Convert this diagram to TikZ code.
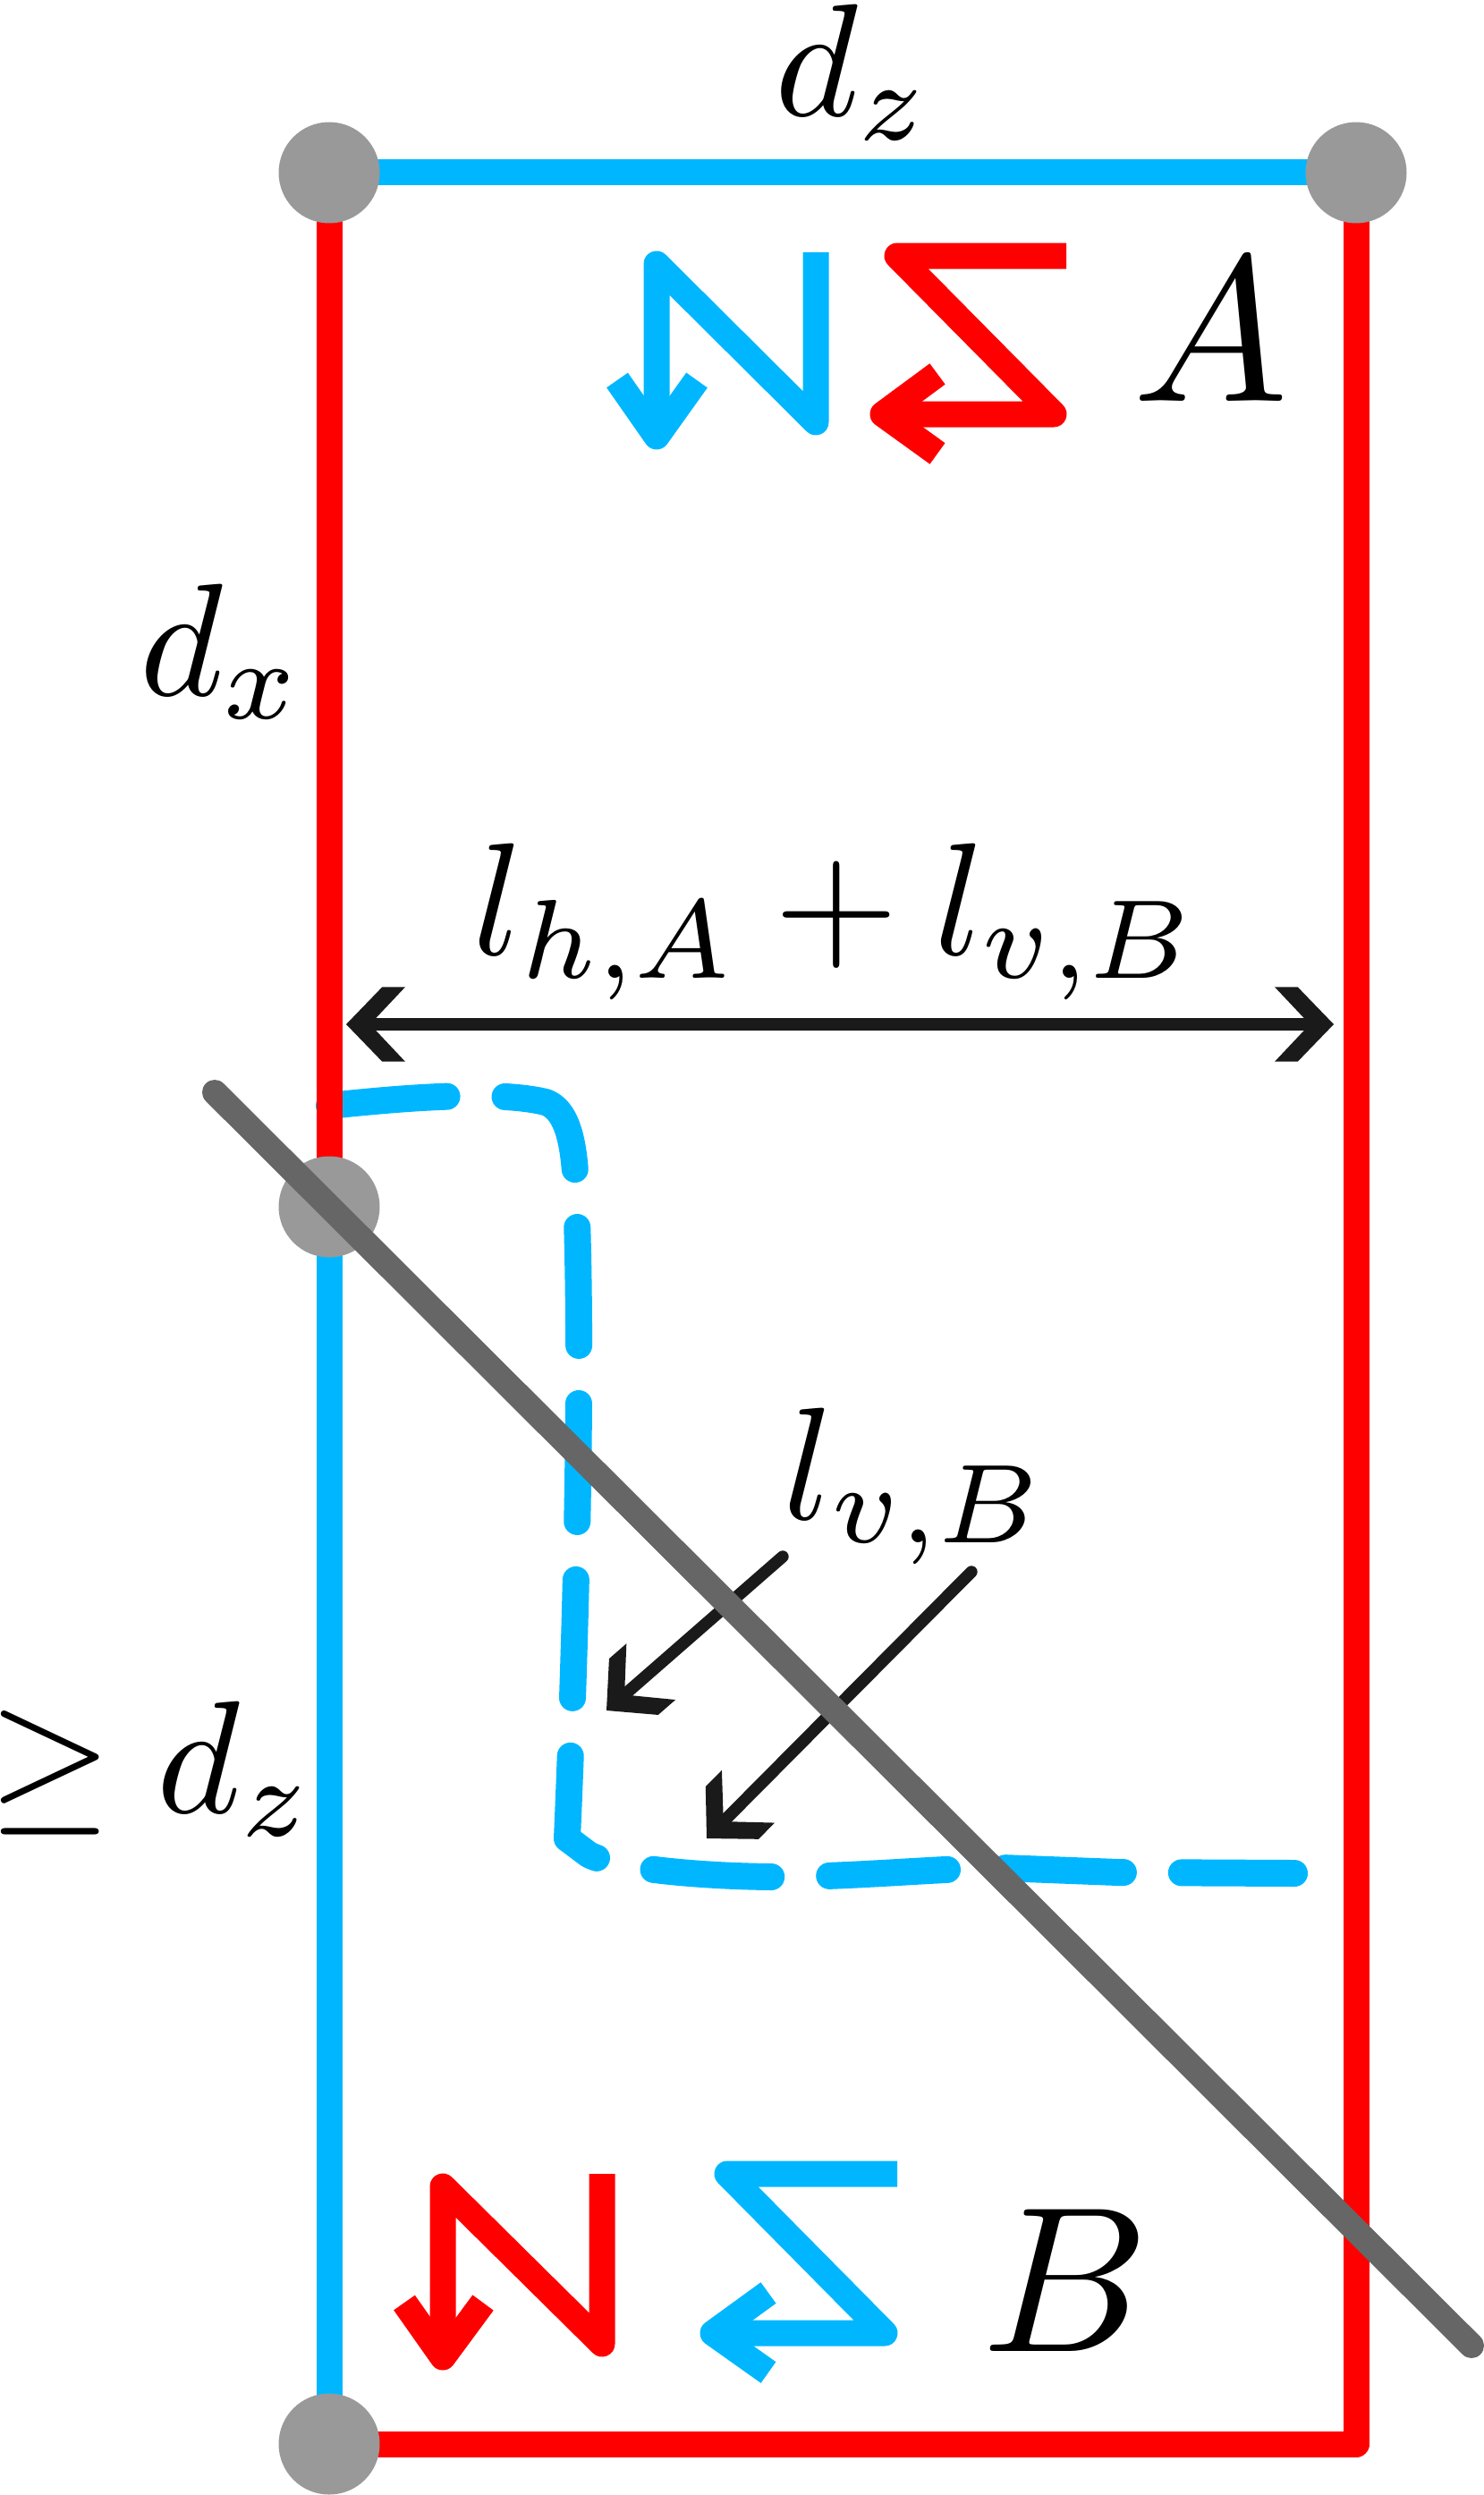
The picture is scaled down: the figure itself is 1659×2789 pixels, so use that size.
\documentclass[tikz,border=0pt]{standalone}
\definecolor{myred}{RGB}{255,0,0}
\definecolor{myblue}{RGB}{0,183,255}
\definecolor{dotgray}{RGB}{153,153,153}
\definecolor{diaggray}{RGB}{102,102,102}
\definecolor{arrowblack}{RGB}{26,26,26}
\newcommand\lblbox[1]{\scalebox{5.1}{$#1$}}
\newcommand\biglblbox[1]{\scalebox{6.6}{$#1$}}
\tikzset{
  chevron/.pic={\fill[arrowblack] (0,0) -- (-40.3,-41.7) -- (-66,-41.7) -- (-33,-6.7) -- (-33,6.7) -- (-66,41.7) -- (-40.3,41.7) -- cycle;},
  redline/.style={draw=myred, line width=2.9mm, line join=round},
  blueline/.style={draw=myblue, line width=2.9mm, line join=round},
  zig/.style={line width=2.9mm, line join=round, line cap=butt},
  dashblue/.style={draw=myblue, line width=3mm, line cap=round, line join=round, dash pattern=on 13.2mm off 6.5mm},
  diag/.style={draw=diaggray, line width=2.8mm, line cap=round},
  shaft/.style={draw=arrowblack, line width=1.34mm},
  dot/.style={circle, fill=dotgray, minimum size=11.3mm, inner sep=0pt},
  lbl/.style={inner sep=0pt, anchor=base west},
}
\begin{document}
\begin{tikzpicture}[x=0.1mm,y=-0.1mm]
\useasboundingbox (0,0) rectangle (1659,2789);
% corner points
\coordinate (tl) at (368,193);
\coordinate (tr) at (1516,193);
\coordinate (ml) at (368,1349);
\coordinate (bl) at (368,2732);
\coordinate (br) at (1516,2732);
% dashed blue path
\draw[dashblue] (368,1236) .. controls (470,1225) and (560,1220) .. (610,1232)
  .. controls (632,1240) and (640,1270) .. (643,1310)
  .. controls (652,1500) and (645,1800) .. (634,2055)
  -- (658,2073) .. controls (690,2090) and (800,2099) .. (890,2098)
  .. controls (980,2096) and (1060,2088) .. (1120,2088)
  -- (1250,2093) -- (1447,2094);
% frame lines
\draw[blueline] (tl) -- (tr);
\draw[redline] (tl) -- (ml);
\draw[blueline] (ml) -- (bl);
\draw[redline] (tr) -- (br) -- (bl);
% zigzags top
\draw[zig, myblue] (912,282) -- (912,472) -- (734,295) -- (734,488);
\draw[zig, myblue] (690,425) -- (734,488) -- (779,425);
\draw[zig, myred] (1192,286) -- (1003,286) -- (1178,463) -- (987,463);
\draw[zig, myred] (1048,418) -- (987,463) -- (1048,507);
% zigzags bottom
\draw[zig, myred] (673,2430) -- (673,2620) -- (495,2444) -- (495,2635);
\draw[zig, myred] (452,2574) -- (495,2635) -- (540,2574);
\draw[zig, myblue] (1003,2430) -- (813,2430) -- (989,2608) -- (797,2608);
\draw[zig, myblue] (859,2563) -- (797,2608) -- (859,2652);
% double arrow
\coordinate (hl) at (387,1145);
\coordinate (hr) at (1491,1145);
\draw[shaft, shorten <=3.3mm, shorten >=3.3mm] (hl) -- (hr);
\pic[rotate=180] at (hl) {chevron};
\pic at (hr) {chevron};
% two black arrows
\coordinate (a1s) at (875,1740);
\coordinate (a1t) at (678,1912);
\coordinate (a2s) at (1086,1757);
\coordinate (a2t) at (790,2055);
\draw[shaft, line cap=round, shorten >=3.3mm] (a1s) -- (a1t);
\draw[shaft, line cap=round, shorten >=3.3mm] (a2s) -- (a2t);
\pic[rotate=221.1] at (a1t) {chevron};
\pic[rotate=225.2] at (a2t) {chevron};
% gray dots
\node[dot] (tlc) at (tl) {};
\node[dot] (trc) at (tr) {};
\node[dot] (mlc) at (ml) {};
\node[dot] (blc) at (bl) {};
% gray diagonal
\coordinate (ds) at (240,1221);
\coordinate (de) at (1645,2622);
\draw[diag] (ds) -- (de);
% labels
\node[lbl] (dz) at (866,130) {\lblbox{d_z}};
\node[lbl] (dx) at (156,777) {\lblbox{d_x}};
\node[lbl] (sum) at (528,1067) {\lblbox{l_{h,A}+l_{v,B}}};
\node[lbl] (lvb) at (875,1698) {\lblbox{l_{v,B}}};
\node[lbl] (geq) at (-14,2026) {\lblbox{\geq d_z}};
\node[lbl] (A) at (1266,448) {\biglblbox{A}};
\node[lbl] (B) at (1097,2628) {\biglblbox{B}};
\end{tikzpicture}
\end{document}
